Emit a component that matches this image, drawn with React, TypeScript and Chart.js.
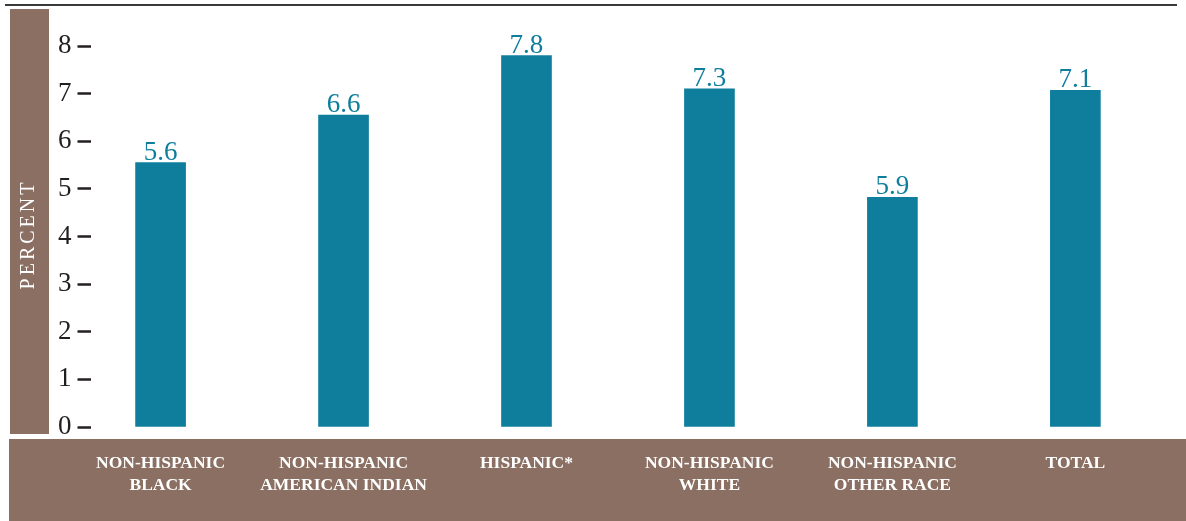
import React, { useEffect, useRef } from "react";
import { Chart, registerables } from "chart.js";

Chart.register(...registerables);

const categories: string[][] = [
  ["NON-HISPANIC", "BLACK"],
  ["NON-HISPANIC", "AMERICAN INDIAN"],
  ["HISPANIC*"],
  ["NON-HISPANIC", "WHITE"],
  ["NON-HISPANIC", "OTHER RACE"],
  ["TOTAL"],
];
const barValues = [5.55, 6.55, 7.8, 7.1, 4.82, 7.07];
const valueLabels = ["5.6", "6.6", "7.8", "7.3", "5.9", "7.1"];
const yTickValues = [0, 1, 2, 3, 4, 5, 6, 7, 8];
const yAxisTitle = "PERCENT";

const TEAL = "#0f7e9c";
const BROWN = "#8a6f62";
const INK = "#231f20";
const SERIF = "'Liberation Serif', 'DejaVu Serif', serif";

const decorPlugin = {
  id: "decor",
  beforeDraw(chart: any) {
    const ctx = chart.ctx;
    const W = chart.width;
    const H = chart.height;
    ctx.save();
    ctx.strokeStyle = "#3a3a3a";
    ctx.lineWidth = 2;
    ctx.beginPath();
    ctx.moveTo(5, 5);
    ctx.lineTo(1177, 5);
    ctx.stroke();
    ctx.fillStyle = BROWN;
    ctx.fillRect(10, 9, 39, 425);
    ctx.fillRect(9, 439, W - 9, H - 439);
    ctx.translate(29, 236);
    ctx.rotate(-Math.PI / 2);
    ctx.fillStyle = "#ffffff";
    ctx.font = `20px ${SERIF}`;
    (ctx as any).letterSpacing = "3px";
    ctx.textAlign = "center";
    ctx.textBaseline = "middle";
    ctx.fillText(yAxisTitle, 1.5, 0);
    ctx.restore();
  },
  afterDatasetsDraw(chart: any) {
    const ctx = chart.ctx;
    const meta = chart.getDatasetMeta(0);
    ctx.save();
    ctx.fillStyle = TEAL;
    ctx.font = `27px ${SERIF}`;
    ctx.textAlign = "center";
    ctx.textBaseline = "alphabetic";
    meta.data.forEach((bar: any, i: number) => {
      ctx.fillText(valueLabels[i], bar.x, bar.y - 3);
    });
    ctx.restore();
  },
};

export default function App() {
  const ref = useRef<HTMLCanvasElement | null>(null);
  useEffect(() => {
    if (!ref.current) return;
    const chart = new Chart(ref.current, {
      type: "bar",
      data: {
        datasets: [
          {
            data: barValues.map((v, i) => ({ x: i, y: v })),
            backgroundColor: TEAL,
            barThickness: 50,
            borderWidth: 0,
          },
        ],
      },
      options: {
        animation: false,
        responsive: true,
        maintainAspectRatio: false,
        layout: { padding: { left: 52, right: 10, top: 46, bottom: 0 } },
        plugins: { legend: { display: false }, tooltip: { enabled: false } },
        scales: {
          x: {
            type: "linear",
            offset: false,
            min: -0.383,
            max: 5.55,
            grid: { display: false, drawTicks: false, tickLength: 0 },
            border: { display: false },
            afterBuildTicks: (scale: any) => {
              scale.ticks = categories.map((_, i) => ({ value: i }));
            },
            ticks: {
              autoSkip: false,
              maxRotation: 0,
              padding: 25,
              color: "#ffffff",
              font: { family: SERIF, size: 17.5, weight: "bold", lineHeight: 22 / 17.5 },
              callback: (_v: any, i: number) => categories[i],
            },
          },
          y: {
            min: 0,
            max: 8,
            afterBuildTicks: (scale: any) => {
              scale.ticks = yTickValues.map((v) => ({ value: v }));
            },
            grid: {
              drawOnChartArea: false,
              drawTicks: true,
              tickLength: 13,
              tickColor: INK,
              tickWidth: 2.5,
            },
            border: { display: false },
            ticks: {
              padding: 6,
              color: INK,
              font: { family: SERIF, size: 27 },
            },
          },
        },
      },
      plugins: [decorPlugin],
    } as any);
    return () => chart.destroy();
  }, []);
  return (
    <div style={{ position: "fixed", left: 0, top: 0, width: 1186, height: 521, background: "#fff" }}>
      <canvas ref={ref} />
    </div>
  );
}
